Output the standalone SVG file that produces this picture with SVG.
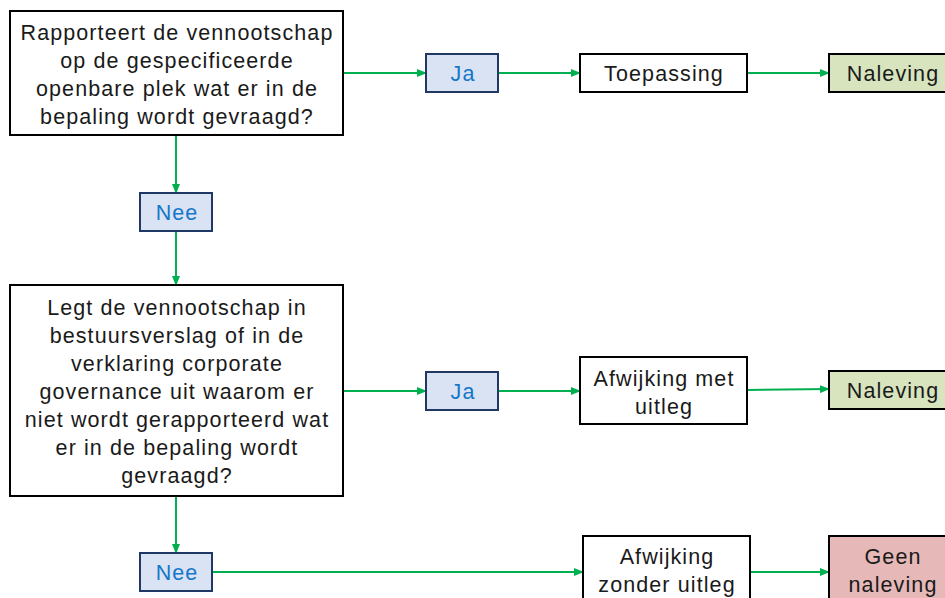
<svg xmlns="http://www.w3.org/2000/svg" width="945" height="598" viewBox="0 0 945 598">
<defs>
<marker id="ah" markerWidth="10" markerHeight="8" refX="9" refY="4" orient="auto" markerUnits="userSpaceOnUse">
<path d="M0,0 L10,4 L0,8 Z" fill="#00b050"/>
</marker>
<style>
.box{fill:#fff;stroke:#000;stroke-width:2}
.ans{fill:#dae3f3;stroke:#1f3864;stroke-width:2}
.ok{fill:#d7e4bd;stroke:#000;stroke-width:2}
.bad{fill:#e6b9b8;stroke:#000;stroke-width:2}
.t{font-family:"Liberation Sans",Arial,sans-serif;font-size:21.5px;letter-spacing:1.1px;fill:#1a1a1a;text-anchor:middle}
.ta{font-family:"Liberation Sans",Arial,sans-serif;font-size:21.5px;letter-spacing:1.1px;fill:#1577c9;text-anchor:middle}
.c{stroke:#00b050;stroke-width:2;fill:none;marker-end:url(#ah)}
</style>
</defs>
<rect width="945" height="598" fill="#fff"/>
<g id="connectors">
<line class="c" x1="343" y1="73" x2="426" y2="73"/>
<line class="c" x1="498" y1="73" x2="580" y2="73"/>
<line class="c" x1="747" y1="73" x2="829" y2="73"/>
<line class="c" x1="176" y1="135" x2="176" y2="193"/>
<line class="c" x1="176" y1="231" x2="176" y2="285"/>
<line class="c" x1="343" y1="391" x2="426" y2="391"/>
<line class="c" x1="498" y1="391" x2="580" y2="391"/>
<line class="c" x1="747" y1="390" x2="829" y2="389"/>
<line class="c" x1="176" y1="496" x2="176" y2="553"/>
<line class="c" x1="212" y1="572" x2="583" y2="572"/>
<line class="c" x1="750" y1="572" x2="829" y2="572"/>
</g>
<g id="q1">
<rect class="box" x="10" y="11" width="333" height="124"/>
<text class="t" x="177" y="40">Rapporteert de vennootschap</text>
<text class="t" x="177" y="68">op de gespecificeerde</text>
<text class="t" x="177" y="96">openbare plek wat er in de</text>
<text class="t" x="177" y="124">bepaling wordt gevraagd?</text>
</g>
<g id="ja1">
<rect class="ans" x="426" y="54" width="72" height="38"/>
<text class="ta" x="463" y="81">Ja</text>
</g>
<g id="toepassing">
<rect class="box" x="580" y="54" width="167" height="38"/>
<text class="t" x="664" y="81">Toepassing</text>
</g>
<g id="naleving1">
<rect class="ok" x="829" y="54" width="130" height="38"/>
<text class="t" x="893" y="81">Naleving</text>
</g>
<g id="nee1">
<rect class="ans" x="140" y="193" width="72" height="38"/>
<text class="ta" x="177" y="220">Nee</text>
</g>
<g id="q2">
<rect class="box" x="10" y="285" width="333" height="211"/>
<text class="t" x="177" y="315">Legt de vennootschap in</text>
<text class="t" x="177" y="343">bestuursverslag of in de</text>
<text class="t" x="177" y="371">verklaring corporate</text>
<text class="t" x="177" y="399">governance uit waarom er</text>
<text class="t" x="177" y="427">niet wordt gerapporteerd wat</text>
<text class="t" x="177" y="455">er in de bepaling wordt</text>
<text class="t" x="177" y="483">gevraagd?</text>
</g>
<g id="ja2">
<rect class="ans" x="426" y="372" width="72" height="38"/>
<text class="ta" x="463" y="399">Ja</text>
</g>
<g id="afwijking-met">
<rect class="box" x="580" y="357" width="167" height="67"/>
<text class="t" x="664" y="386">Afwijking met</text>
<text class="t" x="664" y="414">uitleg</text>
</g>
<g id="naleving2">
<rect class="ok" x="829" y="371" width="130" height="38"/>
<text class="t" x="893" y="398">Naleving</text>
</g>
<g id="nee2">
<rect class="ans" x="140" y="553" width="72" height="38"/>
<text class="ta" x="177" y="580">Nee</text>
</g>
<g id="afwijking-zonder">
<rect class="box" x="583" y="536" width="167" height="75"/>
<text class="t" x="667" y="564">Afwijking</text>
<text class="t" x="667" y="592">zonder uitleg</text>
</g>
<g id="geen-naleving">
<rect class="bad" x="829" y="536" width="130" height="75"/>
<text class="t" x="893" y="564">Geen</text>
<text class="t" x="893" y="592">naleving</text>
</g>
</svg>
